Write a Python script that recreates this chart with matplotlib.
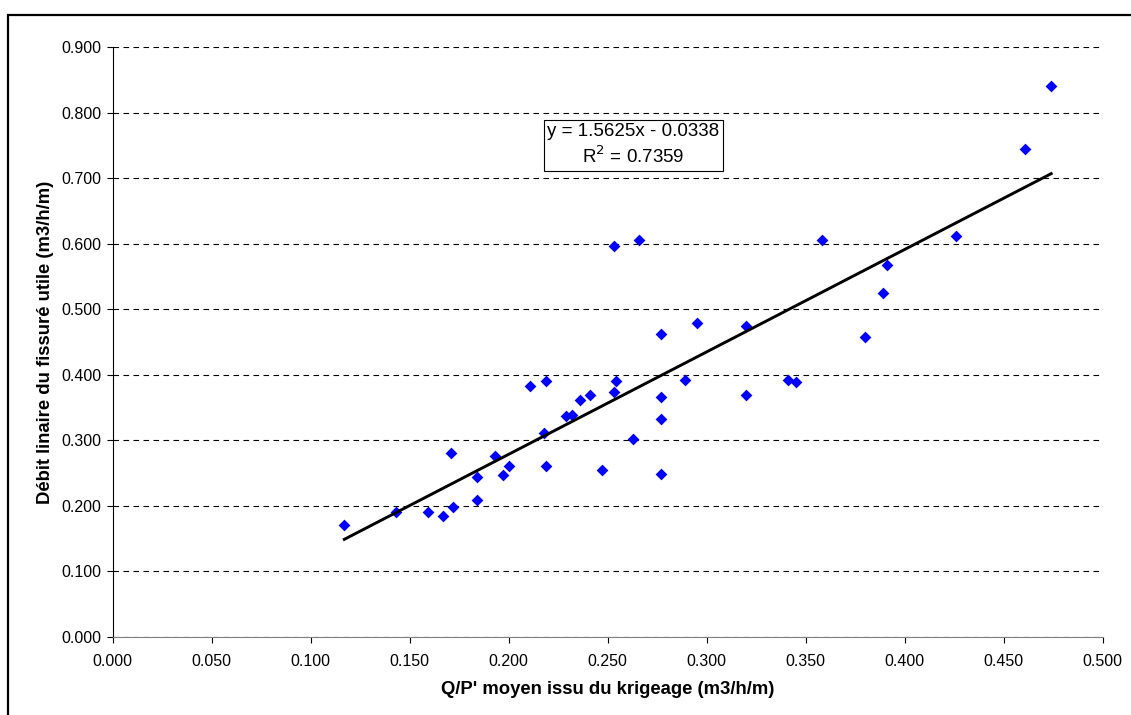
import numpy as np
import matplotlib
matplotlib.use('agg')
import matplotlib.pyplot as plt
from matplotlib.patches import Rectangle

matplotlib.rc('font', family='Liberation Sans', size=11)

# Data
qp_krig = [0.117, 0.143, 0.159, 0.167, 0.172, 0.171, 0.184, 0.184, 0.193, 0.197,
           0.200, 0.211, 0.219, 0.218, 0.219, 0.229, 0.232, 0.236, 0.241, 0.247,
           0.253, 0.254, 0.263, 0.277, 0.277, 0.277, 0.277, 0.289, 0.320, 0.253,
           0.266, 0.295, 0.320, 0.358, 0.341, 0.345, 0.380, 0.389, 0.391, 0.426,
           0.461, 0.474]
debit = [0.171, 0.191, 0.191, 0.184, 0.199, 0.280, 0.209, 0.244, 0.276, 0.247,
         0.261, 0.383, 0.390, 0.311, 0.261, 0.337, 0.338, 0.362, 0.369, 0.255,
         0.373, 0.390, 0.302, 0.462, 0.366, 0.333, 0.248, 0.392, 0.369, 0.597,
         0.606, 0.479, 0.474, 0.605, 0.392, 0.389, 0.458, 0.524, 0.568, 0.612,
         0.744, 0.841]
slope = 1.5625
intercept = -0.0338
r2 = 0.7359
x_ticks = [0.0, 0.05, 0.1, 0.15, 0.2, 0.25, 0.3, 0.35, 0.4, 0.45, 0.5]
y_ticks = [0.0, 0.1, 0.2, 0.3, 0.4, 0.5, 0.6, 0.7, 0.8, 0.9]

fig = plt.figure(figsize=(11.31, 7.15), dpi=100)
ax = fig.add_axes([112.7 / 1131, 1 - 637 / 715, 990 / 1131, 590 / 715])

# Outer chart frame (only top and left edges visible in the picture)
fig.patches.append(Rectangle((8 / 1131, -0.1), 1.2, 1 - 15 / 715 + 0.1,
                             transform=fig.transFigure, fill=False,
                             edgecolor='black', lw=1.6))

ax.set_axisbelow(True)
ax.yaxis.grid(True, ls=(0, (5, 4)), color='black', lw=0.8)

ax.scatter(qp_krig, debit, marker='D', s=36, color='#0000FF', linewidths=0, zorder=3)

x_fit = np.array([min(qp_krig), max(qp_krig)])
ax.plot(x_fit, slope * x_fit + intercept, color='black', lw=2.1, zorder=4)

ax.text(0.263, 0.75, 'y = %.4fx - %.4f\nR$^2$ = %.4f' % (slope, -intercept, r2),
        ha='center', va='center', fontsize=13.5, linespacing=1.3,
        bbox=dict(boxstyle='square,pad=0.18', fc='white', ec='black', lw=0.8), zorder=5)

ax.set_xlim(0, 0.5)
ax.set_ylim(0, 0.9)
ax.set_xticks(x_ticks)
ax.set_yticks(y_ticks)
ax.set_xticklabels(['%.3f' % v for v in x_ticks])
ax.set_yticklabels(['%.3f' % v for v in y_ticks])
ax.tick_params(direction='out', length=4, width=0.8, labelsize=11.5)
ax.tick_params(axis='x', pad=8)
ax.tick_params(axis='y', pad=4)

for side in ['top', 'right']:
    ax.spines[side].set_visible(False)
for side in ['left', 'bottom']:
    ax.spines[side].set_linewidth(0.8)
ax.spines['bottom'].set_color('#808080')

ax.set_xlabel("Q/P' moyen issu du krigeage (m3/h/m)", fontsize=13.3, fontweight='bold')
ax.set_ylabel('Débit linaire du fissuré utile (m3/h/m)', fontsize=13.3, fontweight='bold')
ax.xaxis.label.set_va('center')
ax.yaxis.label.set_va('center')
ax.xaxis.set_label_coords(0.5, (637 - 690) / 590)
ax.yaxis.set_label_coords((45 - 112.7) / 990, 0.5)

fig.savefig('out.png', dpi=100)
plt.close()
